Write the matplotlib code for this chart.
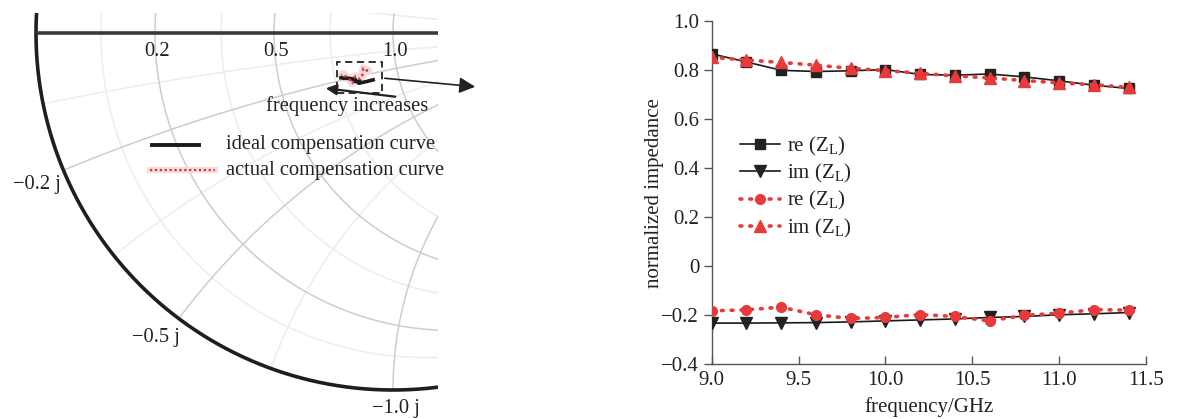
import numpy as np
import matplotlib
matplotlib.use("Agg")
import matplotlib.pyplot as plt
from matplotlib.patches import Rectangle, FancyArrowPatch
from matplotlib.lines import Line2D
from matplotlib.ticker import FuncFormatter

# ---------------- data ----------------
freq = [9.0, 9.2, 9.4, 9.6, 9.8, 10.0, 10.2, 10.4, 10.6, 10.8, 11.0, 11.2, 11.4]
ideal_re = [0.866, 0.833, 0.799, 0.794, 0.797, 0.802, 0.782, 0.779, 0.784, 0.772, 0.756, 0.738, 0.725]
ideal_im = [-0.232, -0.232, -0.231, -0.230, -0.227, -0.223, -0.219, -0.215, -0.209, -0.205, -0.198, -0.194, -0.189]
actual_circ = [-0.182, -0.178, -0.167, -0.198, -0.213, -0.209, -0.197, -0.205, -0.223, -0.200, -0.192, -0.177, -0.179]
actual_tri = [0.852, 0.841, 0.831, 0.820, 0.807, 0.798, 0.787, 0.776, 0.768, 0.757, 0.748, 0.740, 0.729]
legend_labels = [r"re ($\mathrm{Z}_\mathrm{L}$)", r"im ($\mathrm{Z}_\mathrm{L}$)",
                 r"re ($\mathrm{Z}_\mathrm{L}$)", r"im ($\mathrm{Z}_\mathrm{L}$)"]
yticks = [-0.4, -0.2, 0, 0.2, 0.4, 0.6, 0.8, 1.0]
xticks = [9.0, 9.5, 10.0, 10.5, 11.0, 11.5]

r_major = [0.2, 0.5, 1.0, 2.0]
r_minor = [0.1, 0.35, 0.7]
x_major = [0.2, 0.5, 1.0, 2.0]
x_minor = [0.1, 0.35, 0.7]
r_labels = ["0.2", "0.5", "1.0"]
x_labels = ["\u22120.2 j", "\u22120.5 j", "\u22121.0 j"]

plt.rcParams['font.family'] = ['Liberation Serif', 'DejaVu Serif']
plt.rcParams['mathtext.fontset'] = 'custom'
plt.rcParams['mathtext.rm'] = 'Liberation Serif'
plt.rcParams['mathtext.it'] = 'Liberation Serif:italic'

W, H = 1198, 419
fig = plt.figure(figsize=(W / 100, H / 100), dpi=100)
TXT = '#222222'
RED = '#e83a3a'
FS_L = 14.8

def fpx(x, y):
    return (x / W, 1 - y / H)

# ---------------- Smith chart (left) ----------------
cx, cy, R = 393.0, 33.0, 357.0
axL_left, axL_right, axL_top, axL_bot = 0.0, 438.0, 13.0, 419.0
axS = fig.add_axes([axL_left / W, 1 - axL_bot / H, (axL_right - axL_left) / W, (axL_bot - axL_top) / H])
axS.set_xlim((axL_left - cx) / R, (axL_right - cx) / R)
axS.set_ylim((cy - axL_bot) / R, (cy - axL_top) / R)
axS.set_aspect('auto')
axS.axis('off')

t = np.linspace(0, 2 * np.pi, 2000)

def r_circle(r):
    c = r / (1 + r); rad = 1 / (1 + r)
    return c + rad * np.cos(t), rad * np.sin(t)

def x_arc(xv):
    c = 1 / xv; rad = abs(1 / xv)
    gx = 1 + rad * np.cos(t); gy = c + rad * np.sin(t)
    m = gx ** 2 + gy ** 2 > 1.0001
    gx = gx.copy(); gy = gy.copy()
    gx[m] = np.nan; gy[m] = np.nan
    return gx, gy

for r in r_minor:
    axS.plot(*r_circle(r), color='#eeeeee', lw=1.2, zorder=1)
for xv in x_minor:
    for s in (1, -1):
        axS.plot(*x_arc(s * xv), color='#eeeeee', lw=1.2, zorder=1)
for r in r_major:
    axS.plot(*r_circle(r), color='#cdcdcd', lw=1.1, zorder=2)
for xv in x_major:
    for s in (1, -1):
        axS.plot(*x_arc(s * xv), color='#cdcdcd', lw=1.1, zorder=2)

axS.plot(np.cos(t), np.sin(t), color='#1e1e1e', lw=2.6, zorder=3)
axS.plot([-1, 1.5], [0, 0], color='#3a3a3a', lw=2.6, zorder=3, solid_capstyle='butt')

for r, lab in zip(r_major[:3], r_labels):
    g = (r - 1) / (r + 1)
    axS.text(g + 0.005, -0.026, lab, ha='center', va='top', fontsize=FS_L, color=TXT)

for xv, lab, off in zip(x_major[:3], x_labels, [(-0.008, -0.012), (0.003, -0.025), (0.008, -0.026)]):
    z = -1j * xv
    g = (z - 1) / (z + 1)
    ha = 'right' if xv < 1 else 'center'
    axS.text(g.real + off[0], g.imag + off[1], lab, ha=ha, va='top', fontsize=FS_L, color=TXT)

# inset curves from data
z_ideal = np.array(ideal_re) + 1j * np.array(ideal_im)
z_act = np.array(actual_tri) + 1j * np.array(actual_circ)
g_ideal = (z_ideal - 1) / (z_ideal + 1)
g_act = (z_act - 1) / (z_act + 1)
axS.plot(g_act.real, g_act.imag, color='#f7dada', lw=6, zorder=4, solid_capstyle='round')
axS.plot(g_ideal.real, g_ideal.imag, color='#1a1a1a', lw=2.6, zorder=5)
axS.plot(g_act.real, g_act.imag, color='#c83a3a', lw=1.8, ls=(0, (1, 1.2)), zorder=6)

# dashed box
bx0, by0, bx1, by1 = 337, 62, 382, 93
axS.add_patch(Rectangle(((bx0 - cx) / R, (cy - by1) / R), (bx1 - bx0) / R, (by1 - by0) / R,
                        fill=False, ls=(0, (4, 2.5)), lw=1.3, ec='#222222', zorder=7))

# arrows
fig.add_artist(FancyArrowPatch(fpx(382, 78), fpx(478, 87), transform=fig.transFigure,
                               arrowstyle='-|>', mutation_scale=24, lw=1.2, color='#222222'))
fig.add_artist(FancyArrowPatch(fpx(398, 97), fpx(323, 88), transform=fig.transFigure,
                               arrowstyle='-|>', mutation_scale=16, lw=1.6, color='#222222'))
fig.text(*fpx(347, 106), "frequency increases", ha='center', va='center', fontsize=FS_L, color=TXT)

# left legend
fig.add_artist(Line2D([152 / W, 199 / W], [1 - 145 / H] * 2, color='#1a1a1a', lw=2.8))
fig.add_artist(Line2D([150 / W, 215 / W], [1 - 170 / H] * 2, color='#f7dcdc', lw=4.5))
fig.add_artist(Line2D([150 / W, 215 / W], [1 - 170 / H] * 2, color='#c83a3a', lw=1.6, ls=(0, (1, 1.2))))
fig.text(*fpx(226, 145), "ideal compensation curve", ha='left', va='center', fontsize=FS_L, color=TXT)
fig.text(*fpx(226, 170), "actual compensation curve", ha='left', va='center', fontsize=FS_L, color=TXT)

# ---------------- line chart (right) ----------------
x0, x1, y0, y1 = 711.7, 1146.0, 21.0, 364.3
ax = fig.add_axes([x0 / W, 1 - y1 / H, (x1 - x0) / W, (y1 - y0) / H])
ax.set_xlim(9.0, 11.5)
ax.set_ylim(-0.4, 1.0)

ax.plot(freq, ideal_re, color='#1a1a1a', lw=1.2, marker='s', ms=7, mfc='#222222', mec='#222222',
        label=legend_labels[0], zorder=3)
ax.plot(freq, ideal_im, color='#1a1a1a', lw=1.2, marker='v', ms=8, mfc='#222222', mec='#222222',
        label=legend_labels[1], zorder=3)
ax.plot(freq, actual_circ, color=RED, lw=2.6, ls=(0, (0.5, 2.2)), dash_capstyle='round', marker='o', ms=7,
        mfc=RED, mec=RED, label=legend_labels[2], zorder=4)
ax.plot(freq, actual_tri, color=RED, lw=2.6, ls=(0, (0.5, 2.2)), dash_capstyle='round', marker='^', ms=8,
        mfc=RED, mec=RED, label=legend_labels[3], zorder=4)

for s in ('top', 'right'):
    ax.spines[s].set_visible(False)
for s in ('left', 'bottom'):
    ax.spines[s].set_color('#555555')
    ax.spines[s].set_linewidth(1.0)

ax.set_yticks(yticks)
ax.set_xticks(xticks)
ax.yaxis.set_major_formatter(FuncFormatter(lambda v, p: "0" if abs(v) < 1e-9 else ("%.1f" % v).replace('-', '\u2212')))
ax.xaxis.set_major_formatter(FuncFormatter(lambda v, p: "%.1f" % v))
ax.tick_params(axis='y', direction='out', length=6, width=1, color='#555555', labelsize=15, labelcolor=TXT, pad=3)
ax.tick_params(axis='x', direction='in', length=6, width=1, color='#555555', labelsize=15, labelcolor=TXT, pad=5)

ax.set_ylabel("normalized impedance", fontsize=15, color=TXT)
ax.set_xlabel("frequency/GHz", fontsize=15, color=TXT)
ax.yaxis.set_label_coords(-0.11, 0.5)
ax.xaxis.set_label_coords(0.5, -0.095)

leg = ax.legend(loc='upper left', bbox_to_anchor=((740 - x0) / (x1 - x0), 1 - (135 - y0) / (y1 - y0)),
                frameon=False, fontsize=15, handlelength=1.9, handletextpad=0.35, labelspacing=0.2,
                borderpad=0, borderaxespad=0)
for txt in leg.get_texts():
    txt.set_color(TXT)

fig.savefig("out.png", dpi=100)
